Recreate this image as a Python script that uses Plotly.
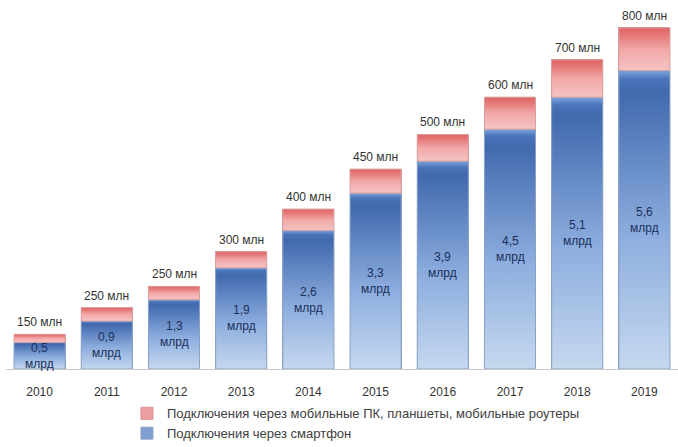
import plotly.graph_objects as go

years = ["2010", "2011", "2012", "2013", "2014", "2015", "2016", "2017", "2018", "2019"]
smartphone_bn = [0.5, 0.9, 1.3, 1.9, 2.6, 3.3, 3.9, 4.5, 5.1, 5.6]
mobile_pc_bn = [0.15, 0.25, 0.25, 0.3, 0.4, 0.45, 0.5, 0.6, 0.7, 0.8]
smartphone_labels = ["0,5", "0,9", "1,3", "1,9", "2,6", "3,3", "3,9", "4,5", "5,1", "5,6"]
mobile_pc_labels = ["150 млн", "250 млн", "250 млн", "300 млн", "400 млн",
                    "450 млн", "500 млн", "600 млн", "700 млн", "800 млн"]
legend_names = ["Подключения через смартфон",
                "Подключения через мобильные ПК, планшеты, мобильные роутеры"]

FONT = "Liberation Sans Narrow, Liberation Sans, Arial, sans-serif"
BARGAP = 0.24
HALF = (1 - BARGAP) / 2

BLUE_SCALE = [[0, "#c6d8ef"], [0.45, "#8cadde"], [0.93, "#4169ae"], [0.97, "#4a74ba"], [1, "#7da5de"]]
PINK_SCALE = [[0, "#f6c4c4"], [0.5, "#f2a7a7"], [0.85, "#e57474"], [1, "#de6464"]]

fig = go.Figure()
# base bars (category axis, carry the legend)
fig.add_trace(go.Bar(
    x=years, y=smartphone_bn, name=legend_names[0], legendgroup="a",
    marker=dict(color="#7d9fd4", line=dict(color="#8da3c4", width=1)),
    hoverinfo="skip",
))
fig.add_trace(go.Bar(
    x=years, y=mobile_pc_bn, name=legend_names[1], legendgroup="b",
    marker=dict(color="#ee9f9f", line=dict(color="#d99090", width=1)),
    hoverinfo="skip",
))

# gradient overlay of the same bars on an overlaid linear x-axis
for i, (s, p) in enumerate(zip(smartphone_bn, mobile_pc_bn)):
    xs = [i - HALF, i + HALF, i + HALF, i - HALF, i - HALF]
    fig.add_trace(go.Scatter(
        x=xs, y=[0, 0, s, s, 0], xaxis="x2", yaxis="y", mode="lines",
        fill="toself", fillgradient=dict(type="vertical", colorscale=BLUE_SCALE),
        line=dict(color="#8aa2c6", width=1), showlegend=False, hoverinfo="skip",
    ))
    fig.add_trace(go.Scatter(
        x=xs, y=[s, s, s + p, s + p, s], xaxis="x2", yaxis="y", mode="lines",
        fill="toself", fillgradient=dict(type="vertical", colorscale=PINK_SCALE),
        line=dict(color="#d9a0a0", width=1), showlegend=False, hoverinfo="skip",
    ))

annotations = []
for i, (s, p, sl, pl) in enumerate(zip(smartphone_bn, mobile_pc_bn, smartphone_labels, mobile_pc_labels)):
    annotations.append(dict(
        x=i, y=s / 2, text=f"{sl}<br>млрд", showarrow=False,
        font=dict(family=FONT, size=12, color="#1c2f5a"), align="center",
    ))
    annotations.append(dict(
        x=i, y=s + p, text=pl, showarrow=False, yanchor="bottom", yshift=3,
        font=dict(family=FONT, size=12, color="#333333"),
    ))

fig.update_layout(
    width=678, height=447,
    barmode="stack", bargap=BARGAP,
    margin=dict(l=6, r=0, t=10, b=78, autoexpand=False),
    paper_bgcolor="white", plot_bgcolor="white",
    font=dict(family=FONT, size=12, color="#333333"),
    xaxis=dict(type="category", showgrid=False, showline=True, linecolor="#c8c8c8",
               linewidth=1, ticks="", ticklabelstandoff=12, automargin=False,
               tickfont=dict(size=12, color="#333333")),
    xaxis2=dict(overlaying="x", range=[-0.5, len(years) - 0.5], visible=False),
    yaxis=dict(visible=False, range=[0, 6.735], automargin=False),
    legend=dict(orientation="v", x=0.18, xanchor="left", xref="paper",
                y=0.109, yanchor="top", yref="container", bgcolor="rgba(0,0,0,0)",
                traceorder="reversed", font=dict(size=13, color="#404040"),
                tracegroupgap=18),
    annotations=annotations,
    showlegend=True,
)

fig.write_html("out.html", config={"displayModeBar": False},
               post_script="document.body.style.margin='0';")
